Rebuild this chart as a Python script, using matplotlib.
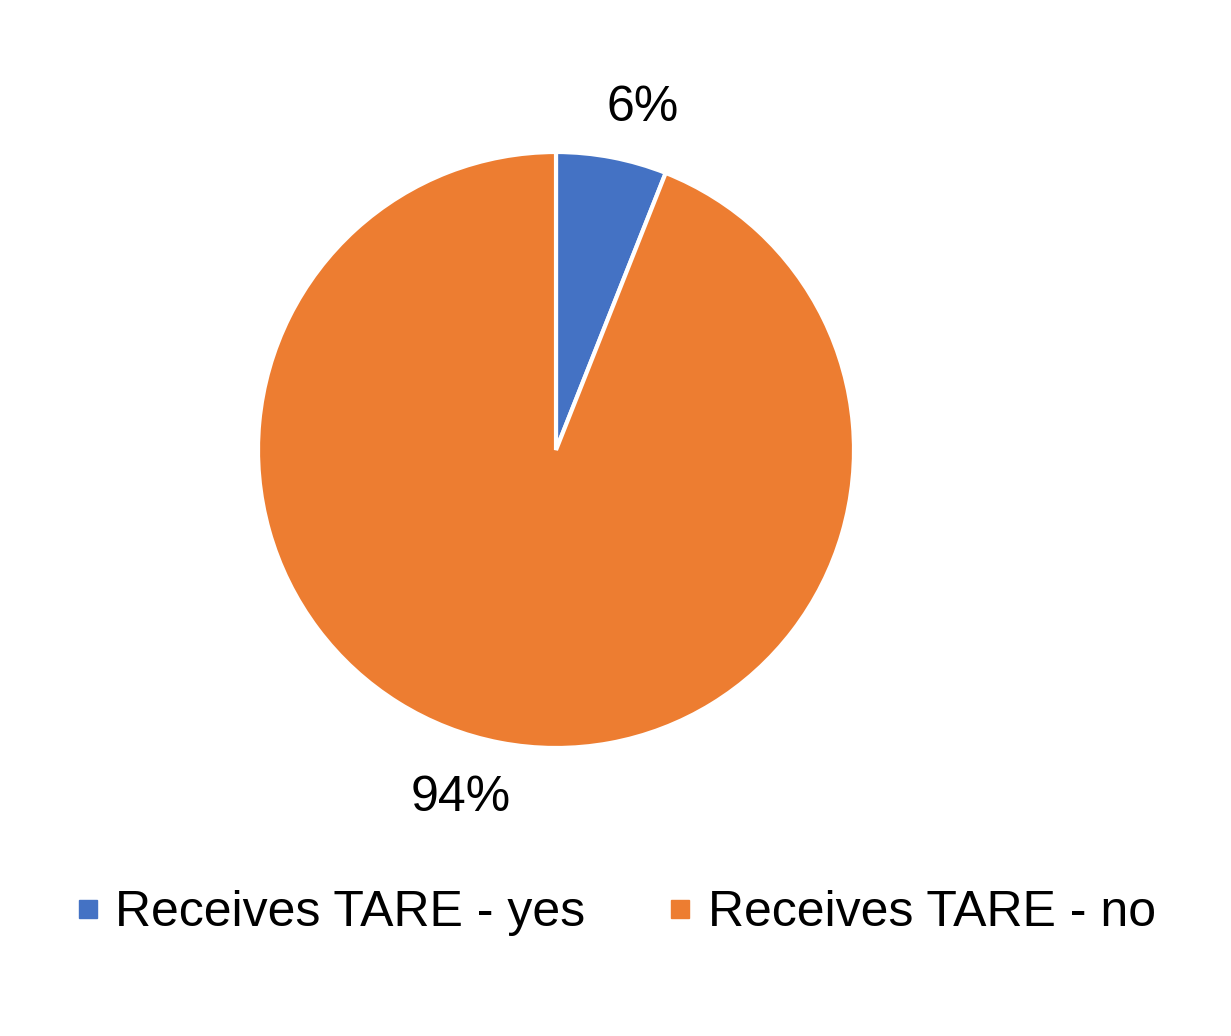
import matplotlib.pyplot as plt
from matplotlib.lines import Line2D

labels = ['Receives TARE - yes', 'Receives TARE - no']
values = [6, 94]
colors = ['#4472C4', '#ED7D31']

plt.rcParams['font.family'] = ['Liberation Sans', 'DejaVu Sans']

fig = plt.figure(figsize=(12.31, 10.36), dpi=100)
W, H = 1231, 1036
cx, cy, r = 556, 1036 - 450, 298
ax = fig.add_axes([(cx - r) / W, (cy - r) / H, 2 * r / W, 2 * r / H])

wedges, texts, autotexts = ax.pie(values, colors=colors, startangle=90, counterclock=False,
                                  autopct='%1.0f%%', pctdistance=1.17,
                                  wedgeprops=dict(edgecolor='white', linewidth=3),
                                  textprops=dict(fontsize=36, color='black'))
# nudge labels sideways like Excel places them
autotexts[0].set_x(autotexts[0].get_position()[0] + 0.07)
autotexts[1].set_x(autotexts[1].get_position()[0] - 0.1)
autotexts[1].set_y(autotexts[1].get_position()[1] - 0.02)
ax.set_xlim(-1, 1)
ax.set_ylim(-1, 1)
ax.set_aspect('equal')

handles = [Line2D([], [], marker='s', linestyle='none', markersize=13,
                  markerfacecolor=c, markeredgecolor=c) for c in colors]
fig.legend(handles, labels, loc='center', bbox_to_anchor=(0.5, 1 - 913 / H), ncol=2,
           frameon=False, fontsize=36, handlelength=0.5, handletextpad=0.3,
           columnspacing=1.65)

fig.savefig('out.png', dpi=100)
